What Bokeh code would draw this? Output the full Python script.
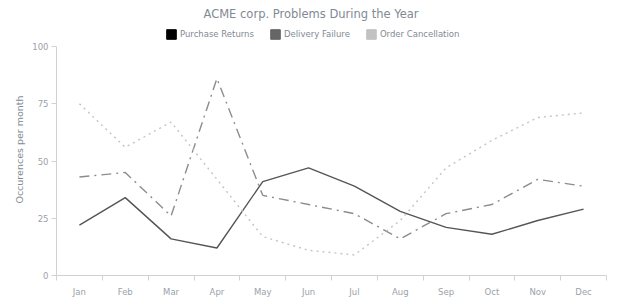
from bokeh.plotting import figure
from bokeh.models import (Range1d, FixedTicker, Legend, LegendItem)
from bokeh.embed import file_html
from bokeh.resources import INLINE

months = ["Jan", "Feb", "Mar", "Apr", "May", "Jun",
          "Jul", "Aug", "Sep", "Oct", "Nov", "Dec"]
purchase_returns = [22, 34, 16, 12, 41, 47, 39, 28, 21, 18, 24, 29]
delivery_failure = [43, 45, 26, 86, 35, 31, 27, 16, 27, 31, 42, 39]
order_cancellation = [75, 56, 67, 42, 17, 11, 9, 24, 47, 59, 69, 71]
y_ticks = [0, 25, 50, 75, 100]

FONT = "DejaVu Sans"
TXT = "#7f8a94"
TICK_TXT = "#9aa2a9"
AX = "#cfd3d6"

# layout (screen pixels)
H, TOP, BOTTOM, Y100, LEG_BOTTOM = 300, 23, 25, 46, 40
frame_h = H - TOP - BOTTOM
y_end = 100 * frame_h / (frame_h - (Y100 - TOP))

xs = [i + 0.5 for i in range(len(months))]

p = figure(width=620, height=H, output_backend="svg", toolbar_location=None,
           x_range=Range1d(0, len(months)), y_range=Range1d(0, y_end),
           min_border_left=56, min_border_right=14, min_border_top=TOP,
           min_border_bottom=BOTTOM,
           title="ACME corp. Problems During the Year")
p.outline_line_color = None
p.xgrid.visible = False
p.ygrid.visible = False

p.line(xs, purchase_returns, line_color="#555555", line_width=1.4)
p.line(xs, delivery_failure, line_color="#8c8c8c", line_width=1.4,
       line_dash="10 5 2 5")
p.line(xs, order_cancellation, line_color="#c4c4c4", line_width=1.4,
       line_dash="2 4")

# legend swatches (not drawn in the plot area)
nan = float("nan")
sw = []
for c in ["#000000", "#666666", "#c2c2c2"]:
    sw.append(p.quad(left=[nan], right=[nan], bottom=[nan], top=[nan],
                     fill_color=c, line_color=c))
legend = Legend(items=[LegendItem(label="Purchase Returns", renderers=[sw[0]]),
                       LegendItem(label="Delivery Failure", renderers=[sw[1]]),
                       LegendItem(label="Order Cancellation", renderers=[sw[2]])],
                orientation="horizontal",
                location=(109, frame_h - (LEG_BOTTOM - TOP)),
                border_line_color=None, background_fill_alpha=0,
                padding=0, margin=0, spacing=15, label_standoff=3,
                glyph_width=12, glyph_height=12, label_height=12,
                label_text_font=FONT, label_text_font_size="8.5px",
                label_text_color=TXT)
p.add_layout(legend, "center")

t = p.title
t.align = "left"
t.offset = 147
t.text_font = FONT
t.text_font_size = "11.5px"
t.text_font_style = "normal"
t.text_color = TXT
t.standoff = 6

xa = p.xaxis[0]
xa.ticker = FixedTicker(ticks=xs, minor_ticks=list(range(len(months) + 1)))
xa.major_label_overrides = {x: m for x, m in zip(xs, months)}
xa.major_tick_line_color = None
xa.minor_tick_line_color = AX
xa.minor_tick_out = 5
xa.minor_tick_in = 0
xa.axis_line_color = AX
xa.major_label_text_font = FONT
xa.major_label_text_font_size = "8.5px"
xa.major_label_text_color = TICK_TXT
xa.major_label_standoff = 5

ya = p.yaxis[0]
ya.ticker = FixedTicker(ticks=y_ticks)
ya.bounds = (0, 100)
ya.minor_tick_line_color = None
ya.major_tick_line_color = AX
ya.major_tick_out = 5
ya.major_tick_in = 0
ya.axis_line_color = AX
ya.major_label_text_font = FONT
ya.major_label_text_font_size = "8.5px"
ya.major_label_text_color = TICK_TXT
ya.major_label_standoff = 3
ya.axis_label = "Occurences per month"
ya.axis_label_text_font = FONT
ya.axis_label_text_font_size = "9.5px"
ya.axis_label_text_font_style = "normal"
ya.axis_label_text_color = TXT
ya.axis_label_standoff = 4

open("out.html", "w").write(file_html(p, INLINE))
